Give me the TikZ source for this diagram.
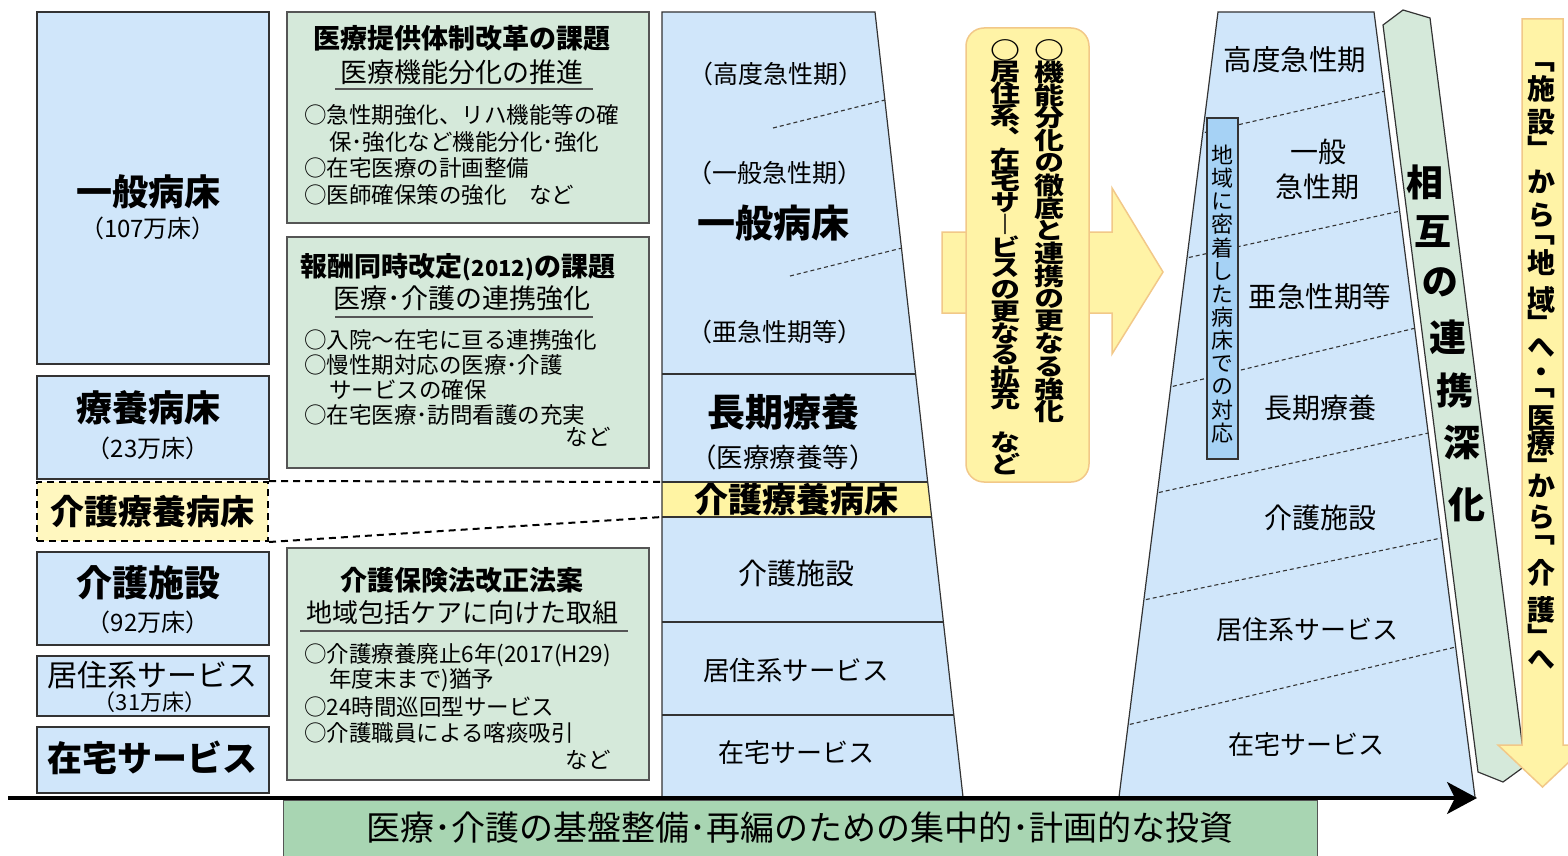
\documentclass[tikz,border=0pt]{standalone}
\usepackage{fontspec}
\setmainfont{Noto Sans CJK JP}
\newfontfamily\vf[RawFeature=+vert]{Noto Sans CJK JP}
\newfontfamily\vfw[RawFeature=+vert,FakeStretch=1.25]{Noto Sans CJK JP}
\usetikzlibrary{arrows.meta,calc}
\definecolor{lblue}{HTML}{D0E6FA}
\definecolor{mblue}{HTML}{A6D2F5}
\definecolor{lgreen}{HTML}{D5E9DA}
\definecolor{mgreen}{HTML}{A8D5B2}
\definecolor{lyellow}{HTML}{FFF4A3}
\definecolor{ryellow}{HTML}{FFF3A6}
\definecolor{aorange}{HTML}{F2C888}
\definecolor{edge}{HTML}{333333}
\definecolor{gedge}{HTML}{555555}
\newcommand{\fz}[1]{\fontsize{#1}{#1}\selectfont}
\begin{document}
\begin{tikzpicture}[x=1pt,y=-1pt,
  lbox/.style={draw=edge,line width=1.2pt,fill=lblue,inner sep=0pt},
  gbox/.style={draw=gedge,line width=1.2pt,fill=lgreen,inner sep=0pt},
  t/.style={inner sep=0pt},
  tl/.style={inner sep=0pt,anchor=west},
  thickdash/.style={line width=2pt,dash pattern=on 7pt off 5pt},
  dotline/.style={edge,line width=1.1pt,dash pattern=on 4pt off 3pt},
  vch/.style={inner sep=0pt,font={\vfw\bfseries\fz{24}}},
  vcr/.style={inner sep=0pt,font={\vf\bfseries\fz{28}}},
  vcs/.style={inner sep=0pt,font={\vf\fz{22}}},
  vcg/.style={inner sep=0pt,font={\vf\bfseries\fz{37}}}
]
\useasboundingbox (0,0) rectangle (1568,856);
\clip (0,0) rectangle (1568,856);
\fill[white] (0,0) rectangle (1568,856);

% ---------- left column ----------
\node[lbox,minimum width=232pt,minimum height=352pt] (ippan) at (153,188) {};
\node[t,font={\bfseries\fz{36}}] (ippanA) at (148,192) {一般病床};
\node[t,font=\fz{24}] (ippanB) at (148,228) {（107万床）};

\node[lbox,minimum width=232pt,minimum height=103pt] (ryoyo) at (153,427.5) {};
\node[t,font={\bfseries\fz{36}}] (ryoyoA) at (148,408) {療養病床};
\node[t,font=\fz{24}] (ryoyoB) at (148,448) {（23万床）};

\node[draw=black,thickdash,fill=lyellow!70,minimum width=231pt,minimum height=59pt,inner sep=0pt] (kryo) at (152.5,511.5) {};
\node[t,font={\bfseries\fz{34}}] (kryoA) at (152,512) {介護療養病床};

\node[lbox,minimum width=232pt,minimum height=93pt] (kshi) at (153,598.5) {};
\node[t,font={\bfseries\fz{36}}] (kshiA) at (148,583) {介護施設};
\node[t,font=\fz{24}] (kshiB) at (148,622) {（92万床）};

\node[lbox,minimum width=232pt,minimum height=60pt] (kyo) at (153,686) {};
\node[t,font=\fz{30}] (kyoA) at (152,675) {居住系サービス};
\node[t,font=\fz{22}] (kyoB) at (150,702) {（31万床）};

\node[lbox,minimum width=232pt,minimum height=66pt] (zai) at (153,760) {};
\node[t,font={\bfseries\fz{35}}] (zaiA) at (152,758) {在宅サービス};

% ---------- green boxes ----------
\node[gbox,minimum width=362pt,minimum height=211pt] (g1) at (468,117.5) {};
\node[t,font={\bfseries\fz{27}}] (g1t) at (462,38) {医療提供体制改革の課題};
\node[t,font=\fz{27}] (g1s) at (462,72) {医療機能分化の推進};
\draw[gedge,line width=1.2pt] (335,89) -- (593,89);
\node[tl,font=\fz{22.5}] (g1a) at (304,115) {○急性期強化、リハ機能等の確};
\node[tl,font=\fz{22.5}] (g1b) at (329,142) {保･強化など機能分化･強化};
\node[tl,font=\fz{22.5}] (g1c) at (304,168) {○在宅医療の計画整備};
\node[tl,font=\fz{22.5}] (g1d) at (304,195) {○医師確保策の強化　など};

\node[gbox,minimum width=362pt,minimum height=231pt] (g2) at (468,352.5) {};
\node[t,font={\bfseries\fz{27}}] (g2t) at (458,267) {報酬同時改定{\fz{22}(2012)}の課題};
\node[t,font=\fz{27}] (g2s) at (462,298) {医療･介護の連携強化};
\draw[gedge,line width=1.2pt] (335,317) -- (593,317);
\node[tl,font=\fz{22.5}] (g2a) at (304,340) {○入院～在宅に亘る連携強化};
\node[tl,font=\fz{22.5}] (g2b) at (304,365) {○慢性期対応の医療･介護};
\node[tl,font=\fz{22.5}] (g2c) at (329,390) {サービスの確保};
\node[tl,font=\fz{22.5}] (g2d) at (304,415) {○在宅医療･訪問看護の充実};
\node[t,anchor=east,font=\fz{22.5}] (g2e) at (611,437) {など};

\node[gbox,minimum width=362pt,minimum height=232pt] (g3) at (468,664) {};
\node[t,font={\bfseries\fz{27}}] (g3t) at (462,580) {介護保険法改正法案};
\node[t,font=\fz{26}] (g3s) at (462,613) {地域包括ケアに向けた取組};
\draw[gedge,line width=1.2pt] (300,631) -- (628,631);
\node[tl,font=\fz{22.5}] (g3a) at (304,655) {○介護療養廃止6年(2017(H29)};
\node[tl,font=\fz{22.5}] (g3b) at (329,680) {年度末まで)猶予};
\node[tl,font=\fz{22.5}] (g3c) at (304,707) {○24時間巡回型サービス};
\node[tl,font=\fz{22.5}] (g3d) at (304,733) {○介護職員による喀痰吸引};
\node[t,anchor=east,font=\fz{22.5}] (g3e) at (611,760) {など};

% ---------- middle trapezoid ----------
\coordinate (bandTL) at (662,482);
\coordinate (bandBL) at (662,517);
\path[fill=lblue] (662,12) -- (875,12) -- (963,797) -- (662,797) -- cycle;
\begin{scope}
  \clip (662,12) -- (875,12) -- (963,797) -- (662,797) -- cycle;
  \fill[lyellow] (662,482) rectangle (1000,517);
  \draw[edge,line width=1.2pt] (662,374) -- (1000,374) (662,482) -- (1000,482)
     (662,517) -- (1000,517) (662,622) -- (1000,622) (662,715) -- (1000,715);
\end{scope}
\draw[edge,line width=1.2pt] (662,797) -- (662,12) -- (875,12) -- (963,797);
\draw[dotline] (773,128) -- (885,100);
\draw[dotline] (790,276) -- (902,248);
\draw[thickdash] (kryo.north east) -- (bandTL);
\draw[thickdash] (kryo.south east) -- (bandBL);

\node[t,font=\fz{25}] (mA) at (776,74) {（高度急性期）};
\node[t,font=\fz{25}] (mB) at (775,173) {（一般急性期）};
\node[t,font={\bfseries\fz{38}}] (mC) at (773,223) {一般病床};
\node[t,font=\fz{25}] (mD) at (775,332) {（亜急性期等）};
\node[t,font={\bfseries\fz{38}}] (mE) at (783,412) {長期療養};
\node[t,font=\fz{26.5}] (mF) at (783,457) {（医療療養等）};
\node[t,font={\bfseries\fz{34}}] (mG) at (796,500) {介護療養病床};
\node[t,font=\fz{29}] (mH) at (796,573) {介護施設};
\node[t,font=\fz{26.5}] (mI) at (796,670) {居住系サービス};
\node[t,font=\fz{26}] (mJ) at (796,753) {在宅サービス};

% ---------- big yellow arrow + rounded box ----------
\fill[ryellow,draw=aorange,line width=1.5pt] (942,232) -- (1112,232) -- (1112,188) -- (1163,272)
   -- (1112,354) -- (1112,313) -- (942,313) -- cycle;
\node[draw=aorange,line width=1.5pt,fill=ryellow,rounded corners=18pt,
      minimum width=123pt,minimum height=454pt,inner sep=0pt] (rr) at (1027.5,255) {};
\foreach \c [count=\i from 0] in {○,機,能,分,化,の,徹,底,と,連,携,の,更,な,る,強,化}
  \node[vch] (ra\i) at (1049,50+\i*22.6) {\c};
\foreach \c [count=\i from 0] in {○,居,住,系,︑,在,宅,サ,︱,ビ,ス,の,更,な,る,拡,充,　,な,ど}
  \node[vch] (rb\i) at (1005,50+\i*21.8) {\c};

% ---------- right trapezoid ----------
\path[fill=lblue] (1218,12) -- (1374,12) -- (1475,797) -- (1119,797) -- cycle;
\begin{scope}
  \clip (1218,12) -- (1374,12) -- (1475,797) -- (1119,797) -- cycle;
  \draw[dotline] (1198,134) -- (1390,90);
  \draw[dotline] (1182,259) -- (1405,210);
  \draw[dotline] (1166,388) -- (1420,327);
  \draw[dotline] (1152,494) -- (1433,432);
  \draw[dotline] (1139,601) -- (1446,537);
  \draw[dotline] (1123,726) -- (1460,646);
\end{scope}
\draw[edge,line width=1.2pt] (1119,797) -- (1218,12) -- (1374,12) -- (1475,797);

\node[draw=edge,fill=mblue,line width=1.2pt,minimum width=31pt,minimum height=341pt,inner sep=0pt] (chiiki) at (1222.5,288.5) {};
\foreach \c [count=\i from 0] in {地,域,に,密,着,し,た,病,床,で,の,対,応}
  \node[vcs] (ch\i) at (1222.5,155+\i*23.2) {\c};

\node[t,font=\fz{28.5}] (rA) at (1295,60) {高度急性期};
\node[t,font=\fz{28}] (rB1) at (1318,152) {一般};
\node[t,font=\fz{28}] (rB2) at (1317,187) {急性期};
\node[t,font=\fz{28.5}] (rC) at (1320,297) {亜急性期等};
\node[t,font=\fz{28}] (rD) at (1320,408) {長期療養};
\node[t,font=\fz{28}] (rE) at (1320,518) {介護施設};
\node[t,font=\fz{26}] (rF) at (1307,630) {居住系サービス};
\node[t,font=\fz{26}] (rG) at (1306,745) {在宅サービス};

% ---------- green slanted arrow ----------
\fill[lgreen,draw=edge,line width=1.2pt] (1383,25) -- (1403,10) -- (1430,18) -- (1525,766)
   -- (1503,782) -- (1478,772) -- cycle;
\foreach \c/\x/\y [count=\i] in {相/1425/182,互/1433/232,の/1440/282,連/1448/337,携/1455/390,深/1462/443,化/1467/505}
  \node[vcg] (sg\i) at (\x,\y) {\c};

% ---------- yellow down arrow ----------
\fill[ryellow,draw=aorange,line width=1.5pt] (1522,19) -- (1563,19) -- (1563,745) -- (1587,745)
   -- (1542.5,787) -- (1498,745) -- (1522,745) -- cycle;
\foreach \c/\y [count=\i] in {﹁/67,施/89,設/122,﹂/148,か/182,ら/215,﹁/240,地/263,域/300,﹂/322,へ/348,・/375,﹁/393,医/418,療/443,﹂/465,か/486,ら/517,﹁/540,介/573,護/610,﹂/636,へ/660}
  \node[vcr] (yd\i) at (1541,\y) {\c};

% ---------- bottom ----------
\node[draw=gedge,fill=mgreen,line width=1pt,minimum width=1034pt,minimum height=70pt,inner sep=0pt] (inv) at (800,835) {};
\node[t,font=\fz{34}] (invt) at (800,828) {医療･介護の基盤整備･再編のための集中的･計画的な投資};
\coordinate (b0) at (8,798);
\coordinate (b1) at (1477,798);
\draw[line width=3.2pt,-{Stealth[length=30pt,width=32pt,inset=8pt]}] (b0) -- (b1);
\end{tikzpicture}
\end{document}
